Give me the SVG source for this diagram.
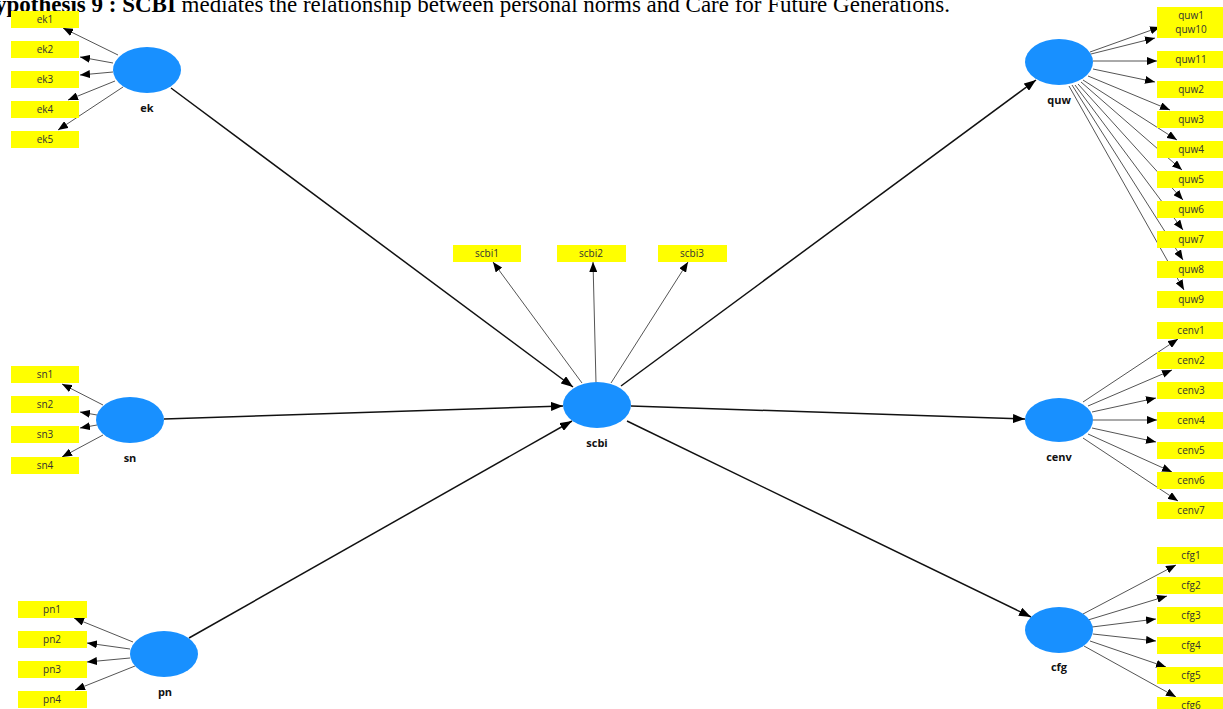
<svg xmlns="http://www.w3.org/2000/svg" width="1223" height="709" viewBox="0 0 1223 709">
<defs>
<marker id="ah" markerUnits="userSpaceOnUse" markerWidth="10" markerHeight="8" refX="10" refY="4" orient="auto"><path d="M0,0 L10,4 L0,8 z" fill="#000"/></marker>
<marker id="ahs" markerUnits="userSpaceOnUse" markerWidth="12" markerHeight="9" refX="12" refY="4.5" orient="auto"><path d="M0,0 L12,4.5 L0,9 z" fill="#000"/></marker>
<style>
.lv{fill:#1890ff}
.ind{fill:#ffff00}
.it{font-family:"Open Sans","Noto Sans",sans-serif;font-size:10px;fill:#333;text-anchor:middle}
.nl{font-family:"Open Sans","Noto Sans",sans-serif;font-size:11px;font-weight:bold;fill:#111;text-anchor:middle}
.s{stroke:#111;stroke-width:1.5;fill:none;marker-end:url(#ahs)}
.i{stroke:#555;stroke-width:1;fill:none;marker-end:url(#ah)}
.title{font-family:"Liberation Serif",serif;font-size:23px;fill:#000}
</style>
</defs>
<rect width="1223" height="709" fill="#fff"/>
<text class="title" x="-5" y="12"><tspan font-weight="bold">ypothesis 9 : SCBI</tspan> mediates the relationship between personal norms and Care for Future Generations.</text>
<g id="connectors">
<line class="s" x1="171" y1="88" x2="573" y2="387"/>
<line class="s" x1="164" y1="419" x2="563" y2="406"/>
<line class="s" x1="189" y1="638" x2="572" y2="421"/>
<line class="s" x1="621" y1="386" x2="1036" y2="80"/>
<line class="s" x1="631" y1="406" x2="1025" y2="419"/>
<line class="s" x1="627" y1="421" x2="1031" y2="617"/>
<line class="i" x1="582" y1="383" x2="493" y2="262"/>
<line class="i" x1="596" y1="383" x2="593" y2="262"/>
<line class="i" x1="611" y1="383" x2="688" y2="262"/>
<line class="i" x1="118" y1="55" x2="63" y2="28"/>
<line class="i" x1="113" y1="63" x2="80" y2="57"/>
<line class="i" x1="113" y1="72" x2="80" y2="75"/>
<line class="i" x1="115" y1="81" x2="68" y2="100"/>
<line class="i" x1="123" y1="87" x2="58" y2="130"/>
<line class="i" x1="103" y1="405" x2="62" y2="384"/>
<line class="i" x1="97" y1="415" x2="80" y2="412"/>
<line class="i" x1="97" y1="425" x2="80" y2="428"/>
<line class="i" x1="103" y1="435" x2="62" y2="457"/>
<line class="i" x1="133" y1="642" x2="74" y2="618"/>
<line class="i" x1="130" y1="649" x2="87" y2="643"/>
<line class="i" x1="130" y1="658" x2="87" y2="662"/>
<line class="i" x1="135" y1="666" x2="75" y2="690"/>
<line class="i" x1="1090" y1="52" x2="1160" y2="27"/>
<line class="i" x1="1091" y1="54" x2="1155" y2="38"/>
<line class="i" x1="1093" y1="61" x2="1157" y2="61"/>
<line class="i" x1="1093" y1="69" x2="1155" y2="82"/>
<line class="i" x1="1088" y1="76" x2="1170" y2="110"/>
<line class="i" x1="1083" y1="80" x2="1177" y2="140"/>
<line class="i" x1="1081" y1="82" x2="1182" y2="170"/>
<line class="i" x1="1078" y1="84" x2="1183" y2="200"/>
<line class="i" x1="1075" y1="85" x2="1183" y2="230"/>
<line class="i" x1="1072" y1="85" x2="1183" y2="260"/>
<line class="i" x1="1069" y1="86" x2="1184" y2="290"/>
<line class="i" x1="1083" y1="402" x2="1178" y2="339"/>
<line class="i" x1="1088" y1="406" x2="1172" y2="370"/>
<line class="i" x1="1092" y1="412" x2="1156" y2="398"/>
<line class="i" x1="1093" y1="420" x2="1157" y2="420"/>
<line class="i" x1="1092" y1="428" x2="1156" y2="442"/>
<line class="i" x1="1088" y1="434" x2="1172" y2="472"/>
<line class="i" x1="1083" y1="438" x2="1178" y2="501"/>
<line class="i" x1="1083" y1="614" x2="1176" y2="565"/>
<line class="i" x1="1088" y1="620" x2="1167" y2="596"/>
<line class="i" x1="1092" y1="627" x2="1156" y2="619"/>
<line class="i" x1="1093" y1="634" x2="1156" y2="641"/>
<line class="i" x1="1090" y1="641" x2="1166" y2="667"/>
<line class="i" x1="1084" y1="646" x2="1176" y2="697"/>
</g>
<g id="ek"><ellipse class="lv" cx="147" cy="70" rx="34" ry="23"/><text class="nl" x="147" y="112">ek</text></g>
<g id="sn"><ellipse class="lv" cx="130" cy="420" rx="34" ry="23"/><text class="nl" x="130" y="462">sn</text></g>
<g id="pn"><ellipse class="lv" cx="164" cy="654" rx="34" ry="23"/><text class="nl" x="165" y="696">pn</text></g>
<g id="scbi"><ellipse class="lv" cx="597" cy="405" rx="34" ry="23"/><text class="nl" x="597" y="447">scbi</text></g>
<g id="quw"><ellipse class="lv" cx="1059" cy="62" rx="34" ry="23"/><text class="nl" x="1059" y="104">quw</text></g>
<g id="cenv"><ellipse class="lv" cx="1059" cy="420" rx="34" ry="22"/><text class="nl" x="1059" y="461">cenv</text></g>
<g id="cfg"><ellipse class="lv" cx="1059" cy="630" rx="34" ry="23"/><text class="nl" x="1059" y="671">cfg</text></g>
<g id="ek1"><rect class="ind" x="11" y="11" width="68" height="17"/><text class="it" x="45" y="23">ek1</text></g>
<g id="ek2"><rect class="ind" x="11" y="41" width="68" height="17"/><text class="it" x="45" y="53">ek2</text></g>
<g id="ek3"><rect class="ind" x="11" y="71" width="68" height="17"/><text class="it" x="45" y="83">ek3</text></g>
<g id="ek4"><rect class="ind" x="11" y="101" width="68" height="17"/><text class="it" x="45" y="113">ek4</text></g>
<g id="ek5"><rect class="ind" x="11" y="131" width="68" height="17"/><text class="it" x="45" y="143">ek5</text></g>
<g id="sn1"><rect class="ind" x="11" y="366" width="68" height="17"/><text class="it" x="45" y="378">sn1</text></g>
<g id="sn2"><rect class="ind" x="11" y="396" width="68" height="17"/><text class="it" x="45" y="408">sn2</text></g>
<g id="sn3"><rect class="ind" x="11" y="426" width="68" height="17"/><text class="it" x="45" y="438">sn3</text></g>
<g id="sn4"><rect class="ind" x="11" y="457" width="68" height="17"/><text class="it" x="45" y="469">sn4</text></g>
<g id="pn1"><rect class="ind" x="18" y="601" width="69" height="17"/><text class="it" x="52" y="613">pn1</text></g>
<g id="pn2"><rect class="ind" x="18" y="631" width="69" height="17"/><text class="it" x="52" y="643">pn2</text></g>
<g id="pn3"><rect class="ind" x="18" y="661" width="69" height="17"/><text class="it" x="52" y="673">pn3</text></g>
<g id="pn4"><rect class="ind" x="18" y="691" width="69" height="17"/><text class="it" x="52" y="703">pn4</text></g>
<g id="scbi1"><rect class="ind" x="453" y="245" width="68" height="17"/><text class="it" x="487" y="257">scbi1</text></g>
<g id="scbi2"><rect class="ind" x="557" y="245" width="69" height="17"/><text class="it" x="591" y="257">scbi2</text></g>
<g id="scbi3"><rect class="ind" x="658" y="245" width="69" height="17"/><text class="it" x="692" y="257">scbi3</text></g>
<g id="quw1"><rect class="ind" x="1157" y="7" width="68" height="17"/><text class="it" x="1191" y="19">quw1</text></g>
<g id="quw10"><rect class="ind" x="1157" y="21" width="68" height="17"/><text class="it" x="1191" y="33">quw10</text></g>
<g id="quw11"><rect class="ind" x="1157" y="51" width="68" height="17"/><text class="it" x="1191" y="63">quw11</text></g>
<g id="quw2"><rect class="ind" x="1157" y="81" width="68" height="17"/><text class="it" x="1191" y="93">quw2</text></g>
<g id="quw3"><rect class="ind" x="1157" y="111" width="68" height="17"/><text class="it" x="1191" y="123">quw3</text></g>
<g id="quw4"><rect class="ind" x="1157" y="141" width="68" height="17"/><text class="it" x="1191" y="153">quw4</text></g>
<g id="quw5"><rect class="ind" x="1157" y="171" width="68" height="17"/><text class="it" x="1191" y="183">quw5</text></g>
<g id="quw6"><rect class="ind" x="1157" y="201" width="68" height="17"/><text class="it" x="1191" y="213">quw6</text></g>
<g id="quw7"><rect class="ind" x="1157" y="231" width="68" height="17"/><text class="it" x="1191" y="243">quw7</text></g>
<g id="quw8"><rect class="ind" x="1157" y="261" width="68" height="17"/><text class="it" x="1191" y="273">quw8</text></g>
<g id="quw9"><rect class="ind" x="1157" y="291" width="68" height="17"/><text class="it" x="1191" y="303">quw9</text></g>
<g id="cenv1"><rect class="ind" x="1157" y="322" width="68" height="17"/><text class="it" x="1191" y="334">cenv1</text></g>
<g id="cenv2"><rect class="ind" x="1157" y="352" width="68" height="17"/><text class="it" x="1191" y="364">cenv2</text></g>
<g id="cenv3"><rect class="ind" x="1157" y="382" width="68" height="17"/><text class="it" x="1191" y="394">cenv3</text></g>
<g id="cenv4"><rect class="ind" x="1157" y="412" width="68" height="17"/><text class="it" x="1191" y="424">cenv4</text></g>
<g id="cenv5"><rect class="ind" x="1157" y="442" width="68" height="17"/><text class="it" x="1191" y="454">cenv5</text></g>
<g id="cenv6"><rect class="ind" x="1157" y="472" width="68" height="17"/><text class="it" x="1191" y="484">cenv6</text></g>
<g id="cenv7"><rect class="ind" x="1157" y="502" width="68" height="17"/><text class="it" x="1191" y="514">cenv7</text></g>
<g id="cfg1"><rect class="ind" x="1157" y="547" width="68" height="17"/><text class="it" x="1191" y="559">cfg1</text></g>
<g id="cfg2"><rect class="ind" x="1157" y="577" width="68" height="17"/><text class="it" x="1191" y="589">cfg2</text></g>
<g id="cfg3"><rect class="ind" x="1157" y="607" width="68" height="17"/><text class="it" x="1191" y="619">cfg3</text></g>
<g id="cfg4"><rect class="ind" x="1157" y="637" width="68" height="17"/><text class="it" x="1191" y="649">cfg4</text></g>
<g id="cfg5"><rect class="ind" x="1157" y="667" width="68" height="17"/><text class="it" x="1191" y="679">cfg5</text></g>
<g id="cfg6"><rect class="ind" x="1157" y="697" width="68" height="17"/><text class="it" x="1191" y="709">cfg6</text></g>
</svg>
